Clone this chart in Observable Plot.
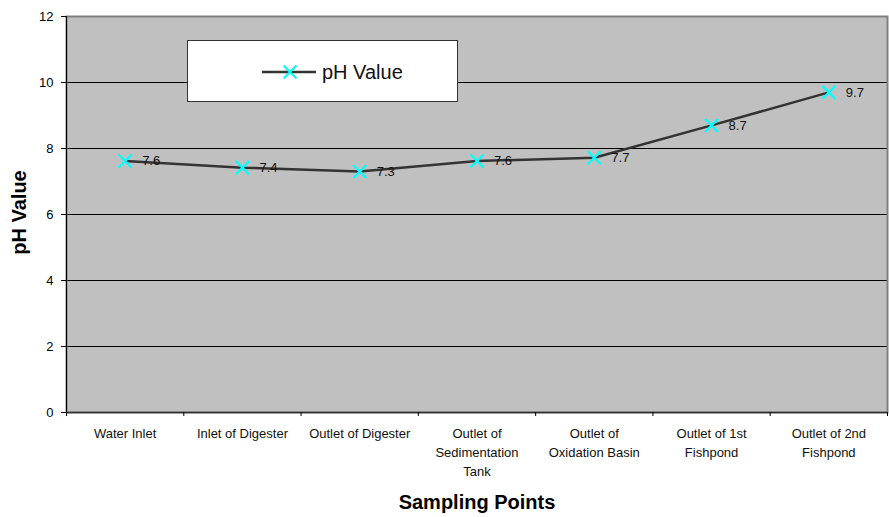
<!DOCTYPE html>
<html>
<head>
<meta charset="utf-8">
<script src="https://cdn.jsdelivr.net/npm/d3@7"></script>
<script src="https://cdn.jsdelivr.net/npm/@observablehq/plot@0.6"></script>
<style>
  html, body { margin: 0; padding: 0; background: white; }
  #wrap { position: relative; width: 889px; height: 517px; font-family: "Liberation Sans", Arial, sans-serif; }
  #legend { position: absolute; left: 187px; top: 40px; width: 271px; height: 62px; background: white; border: 1px solid #333; box-sizing: border-box; }
  #legend svg { position: absolute; left: 0; top: 0; }
  #legend span { position: absolute; left: 134px; top: 31px; transform: translateY(-50%); font-size: 20px; color: #111; white-space: nowrap; }
</style>
</head>
<body>
<div id="wrap">
  <div id="chart"></div>
  <div id="legend">
    <svg width="140" height="62">
      <line x1="74" x2="128" y1="31" y2="31" stroke="#333" stroke-width="2.5"></line>
      <path d="M95.5,24.5L108.5,37.5M95.5,37.5L108.5,24.5" stroke="#00ffff" stroke-width="2.2" fill="none"></path>
    </svg>
    <span>pH Value</span>
  </div>
</div>
<script>
const categories = [
  "Water Inlet",
  "Inlet of Digester",
  "Outlet of Digester",
  "Outlet of\nSedimentation\nTank",
  "Outlet of\nOxidation Basin",
  "Outlet of 1st\nFishpond",
  "Outlet of 2nd\nFishpond"
];
const phValues = [7.62, 7.42, 7.30, 7.62, 7.72, 8.70, 9.70];
const valueLabels = ["7.6", "7.4", "7.3", "7.6", "7.7", "8.7", "9.7"];
const yTicks = [0, 2, 4, 6, 8, 10, 12];
const gridTicks = [2, 4, 6, 8, 10];

const idx = categories.map((_, i) => i);
const boundaries = categories.map((_, i) => i - 0.5).concat([categories.length - 0.5]);
const xDomain = [-0.5, categories.length - 0.5];

const chart = Plot.plot({
  width: 889,
  height: 517,
  marginLeft: 66,
  marginRight: 2,
  marginTop: 16,
  marginBottom: 105,
  x: { domain: xDomain },
  y: { domain: [0, 12] },
  style: { fontFamily: "'Liberation Sans', Arial, sans-serif", background: "white", color: "black" },
  marks: [
    Plot.frame({ fill: "#c0c0c0" }),
    Plot.gridY(gridTicks, { stroke: "black", strokeOpacity: 1, strokeWidth: 1 }),
    Plot.frame({ stroke: "#808080", strokeWidth: 2 }),
    Plot.ruleX([xDomain[0]], { stroke: "black", strokeWidth: 1 }),
    Plot.ruleY([0], { stroke: "#333", strokeWidth: 1.5 }),
    Plot.axisY({ ticks: yTicks, tickSize: 5, tickPadding: 8, fontSize: 13, label: null }),
    Plot.axisX({ ticks: boundaries, tickSize: 4, tickFormat: () => "", label: null }),
    Plot.text(idx, { x: d => d, y: 0, text: i => categories[i], lineAnchor: "top", dy: 12, fontSize: 13, lineHeight: 1.45, fill: "#111" }),
    Plot.line(idx, { x: d => d, y: i => phValues[i], stroke: "#333", strokeWidth: 2.5 }),
    Plot.dot(idx, { x: d => d, y: i => phValues[i], symbol: "times", r: 6, stroke: "#00ffff", strokeWidth: 2.2 }),
    Plot.text(idx, { x: d => d, y: i => phValues[i], text: i => valueLabels[i], dx: 17, textAnchor: "start", fontSize: 13, fill: "#111" }),
    Plot.text(["pH Value"], { text: d => d, frameAnchor: "left", textAnchor: "middle", rotate: -90, dx: -47, dy: -2, fontWeight: "bold", fontSize: 20 }),
    Plot.text(["Sampling Points"], { text: d => d, frameAnchor: "bottom", textAnchor: "middle", dy: 96, fontWeight: "bold", fontSize: 20 })
  ]
});
document.getElementById("chart").appendChild(chart);
</script>
</body>
</html>
